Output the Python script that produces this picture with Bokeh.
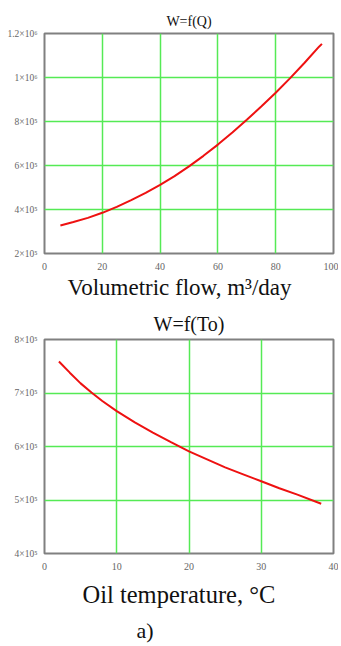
from bokeh.plotting import figure
from bokeh.layouts import column
from bokeh.models import FixedTicker, Title, Range1d
from bokeh.embed import file_html
from bokeh.resources import INLINE

# Top chart: W = f(Q)
q_flow = [5.5, 10, 15, 20, 25, 30, 35, 40, 45, 50, 55, 60, 65, 70, 75, 80, 85, 90, 95, 96]
w_q = [3.27e5, 3.43e5, 3.62e5, 3.85e5, 4.12e5, 4.43e5, 4.76e5, 5.12e5, 5.52e5, 5.96e5,
       6.44e5, 6.95e5, 7.5e5, 8.08e5, 8.68e5, 9.31e5, 9.97e5, 10.67e5, 11.4e5, 11.53e5]
q_ticks = [0, 20, 40, 60, 80, 100]
wq_ticks = [2e5, 4e5, 6e5, 8e5, 1e6, 1.2e6]
wq_labels = ["2×10⁵", "4×10⁵", "6×10⁵", "8×10⁵", "1×10⁶", "1.2×10⁶"]

# Bottom chart: W = f(To)
t_oil = [2, 3.5, 5, 6.5, 8, 10, 12.5, 15, 17.5, 20, 22.5, 25, 27.5, 30, 32.5, 35, 38.3]
w_t = [7.59e5, 7.38e5, 7.18e5, 7.01e5, 6.85e5, 6.66e5, 6.45e5, 6.26e5, 6.08e5, 5.91e5,
       5.76e5, 5.61e5, 5.48e5, 5.35e5, 5.22e5, 5.1e5, 4.93e5]
t_ticks = [0, 10, 20, 30, 40]
wt_ticks = [4e5, 5e5, 6e5, 7e5, 8e5]
wt_labels = ["4×10⁵", "5×10⁵", "6×10⁵", "7×10⁵", "8×10⁵"]

SERIF = "Liberation Serif"
GRID = "#55ea55"


def style(p, xticks, yticks, ylabels):
    p.xaxis.ticker = FixedTicker(ticks=xticks)
    p.yaxis.ticker = FixedTicker(ticks=yticks)
    p.yaxis.major_label_overrides = {t: l for t, l in zip(yticks, ylabels)}
    for ax in (p.xaxis, p.yaxis):
        ax.axis_line_color = None
        ax.major_tick_line_color = None
        ax.minor_tick_line_color = None
        ax.major_label_text_font = SERIF
        ax.major_label_text_color = "#666666"
        ax.major_label_standoff = 3
    p.xaxis.major_label_text_font_size = "10px"
    p.yaxis.major_label_text_font_size = "9.5px"
    p.yaxis.major_label_standoff = 1
    p.xgrid.grid_line_color = GRID
    p.ygrid.grid_line_color = GRID
    p.xgrid.grid_line_width = 1.5
    p.ygrid.grid_line_width = 1.5
    p.outline_line_color = "#808080"
    p.outline_line_width = 2
    p.title.text_font = SERIF
    p.title.text_font_style = "normal"
    p.title.align = "center"
    p.title.text_color = "#111111"


def below_text(p, text, offset, standoff, size):
    p.add_layout(Title(text=text, align="left", offset=offset, standoff=standoff,
                       text_font=SERIF, text_font_style="normal",
                       text_font_size=size, text_color="#111111"), "below")


p1 = figure(width=338, height=305, output_backend="svg", toolbar_location=None,
            x_range=Range1d(0, 100), y_range=Range1d(2e5, 1.2e6),
            title="W=f(Q)", min_border_left=44, min_border_right=5,
            min_border_top=33, min_border_bottom=52)
p1.line(q_flow, w_q, line_color="#ee1111", line_width=2)
style(p1, q_ticks, wq_ticks, wq_labels)
p1.title.text_font_size = "14px"
below_text(p1, "Volumetric flow, m³/day", 23, 1, "23px")

p2 = figure(width=338, height=341, output_backend="svg", toolbar_location=None,
            x_range=Range1d(0, 40), y_range=Range1d(4e5, 8e5),
            title="W=f(To)", min_border_left=43, min_border_right=3,
            min_border_top=34, min_border_bottom=93)
p2.line(t_oil, w_t, line_color="#ee1111", line_width=2)
style(p2, t_ticks, wt_ticks, wt_labels)
p2.title.text_font_size = "20px"
below_text(p2, "Oil temperature, °C", 38, 13, "24.5px")
below_text(p2, "a)", 92, 3, "22px")

layout = column(p1, p2, spacing=0)
open("out.html", "w").write(file_html(layout, INLINE))
